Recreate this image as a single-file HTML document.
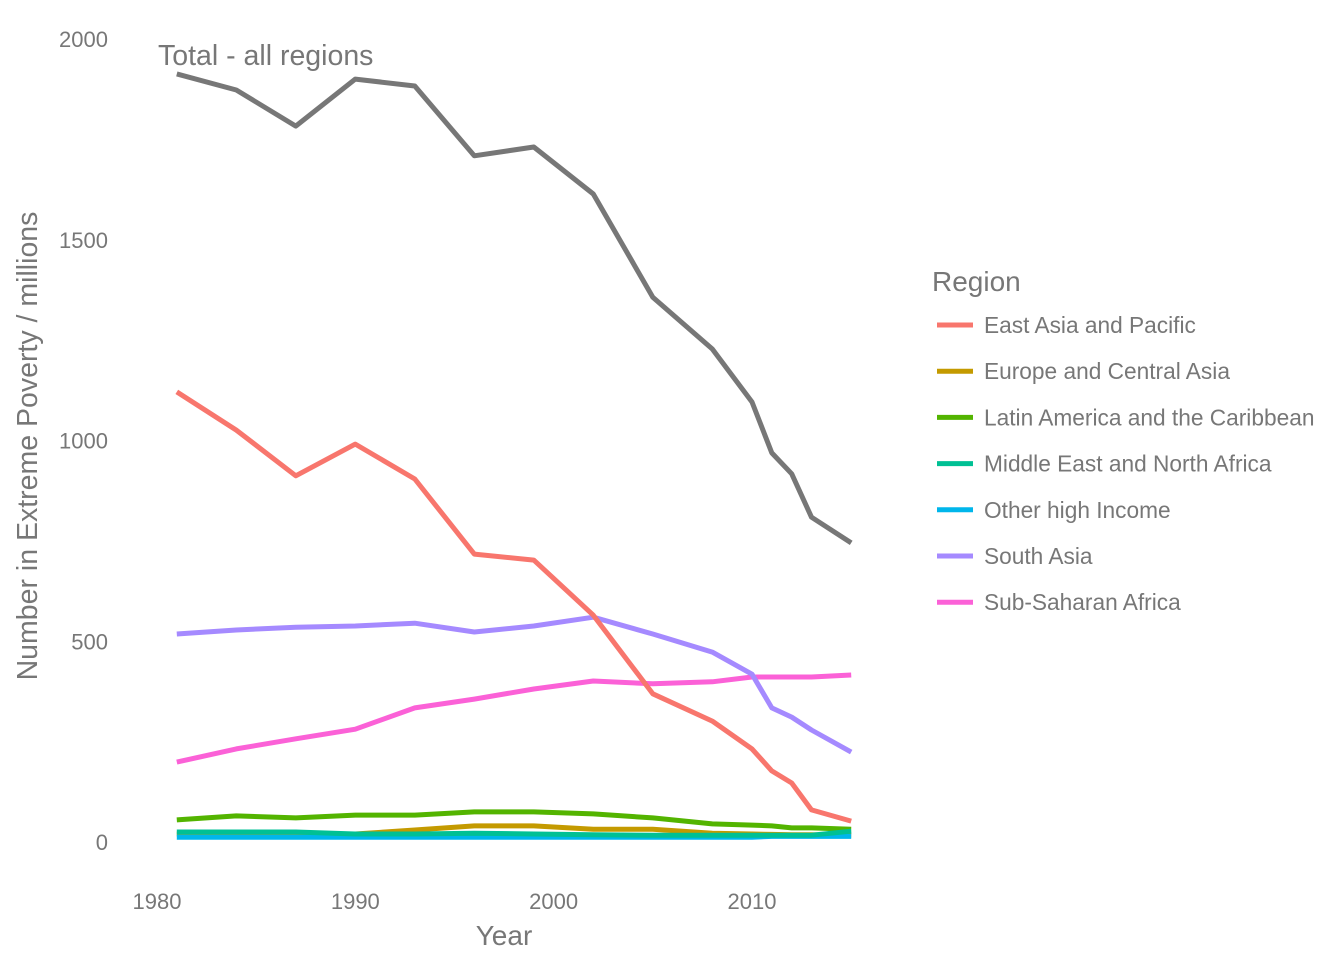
<!DOCTYPE html>
<html><head><meta charset="utf-8"><style>
body{margin:0;background:#fff;font-family:"Liberation Sans",sans-serif}
svg text{font-family:"Liberation Sans",sans-serif;fill:#777}
</style></head><body>
<svg width="1344" height="960">
<g id="axes"></g><g id="lines"></g><g id="legend"></g>
</svg>
<script>
const years=[1981,1984,1987,1990,1993,1996,1999,2002,2005,2008,2010,2011,2012,2013,2015];
const total=[1913,1873,1783,1900,1883,1709,1731,1614,1357,1228,1096,969,917,809,745];
const eastAsia=[1121,1026,912,991,904,717,702,565,369,301,232,177,147,80,52];
const europe=[20,20,20,20,30,40,40,32,32,22,20,19,18,18,17];
const latam=[55,65,60,67,67,75,75,70,60,45,42,40,35,35,32];
const mena=[25,25,25,20,20,22,20,18,17,17,17,17,17,17,27];
const otherHigh=[12,12,12,12,12,12,12,12,12,12,12,14,14,14,14];
const southAsia=[518,528,535,538,545,523,538,560,518,473,418,334,311,279,224];
const ssa=[199,232,257,281,334,356,381,401,394,399,411,411,411,411,416];
const xTicks=[1980,1990,2000,2010];
const yTicks=[0,500,1000,1500,2000];
const legendNames=["East Asia and Pacific","Europe and Central Asia","Latin America and the Caribbean","Middle East and North Africa","Other high Income","South Asia","Sub-Saharan Africa"];
const colors=["#F8766D","#C49A00","#53B400","#00C094","#00B6EB","#A58AFF","#FB61D7"];
const regionSeries=[eastAsia,europe,latam,mena,otherHigh,southAsia,ssa];
const NS="http://www.w3.org/2000/svg";
const X=v=>157+(v-1980)*19.833;
const Y=v=>842-v*0.4015;
function mk(t,a,p){const e=document.createElementNS(NS,t);for(const k in a)e.setAttribute(k,a[k]);p.appendChild(e);return e;}
const ax=document.getElementById('axes');
yTicks.forEach(t=>{const e=mk('text',{x:108,y:Y(t)+8,'text-anchor':'end','font-size':22},ax);e.textContent=t;

});
xTicks.forEach(t=>{const e=mk('text',{x:X(t),y:909,'text-anchor':'middle','font-size':22},ax);e.textContent=t;

});
let e=mk('text',{x:504,y:945,'text-anchor':'middle','font-size':28},ax);e.textContent='Year';

e=mk('text',{x:37,y:446,'text-anchor':'middle','font-size':28.5,transform:'rotate(-90 37 446)'},ax);e.textContent='Number in Extreme Poverty / millions';

e=mk('text',{x:158,y:65,'font-size':28.5},ax);e.textContent='Total - all regions';

const lg=document.getElementById('lines');
function line(vals,col,name){let d='';vals.forEach((v,i)=>{if(v==null)return;d+=(d?'L':'M')+X(years[i]).toFixed(1)+','+Y(v).toFixed(1);});
const p=mk('path',{d:d,fill:'none',stroke:col,'stroke-width':5,'stroke-linejoin':'round'},lg);

}
[6,5,2,1,4,3,0].forEach(i=>line(regionSeries[i],colors[i],'line-region-'+i));
line(total,'#777777','line-total');
const L=document.getElementById('legend');
e=mk('text',{x:932,y:291,'font-size':28},L);e.textContent='Region';

legendNames.forEach((n,i)=>{const y=325+i*46.2;
const g=mk('g',{},L);


mk('line',{x1:937,x2:973,y1:y,y2:y,stroke:colors[i],'stroke-width':5},g);
const t=mk('text',{x:984,y:y+8,'font-size':22.7},g);t.textContent=n;});
</script>
</body></html>
